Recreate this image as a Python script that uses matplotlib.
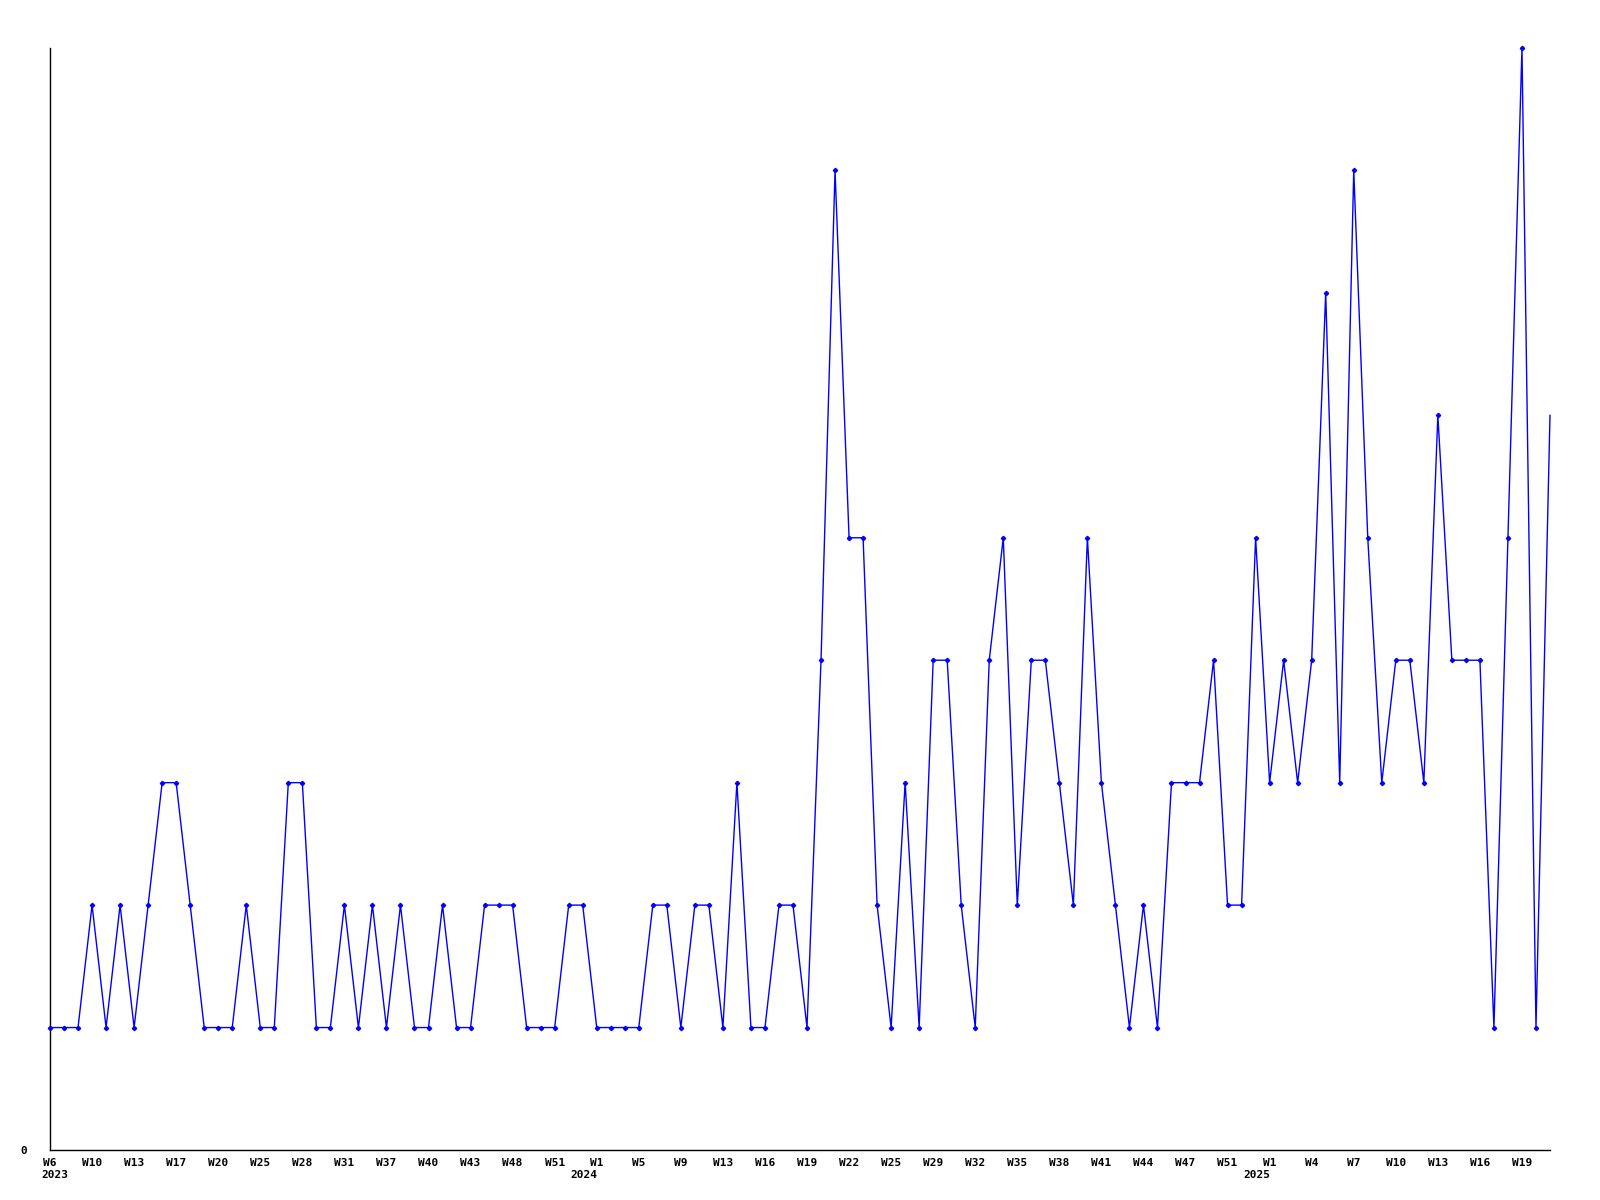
import matplotlib
matplotlib.use("Agg")
import matplotlib.pyplot as plt
import matplotlib.transforms as mtransforms
import numpy as np

# weekly counts, one point per week with data (categorical x axis)
counts = [
    1, 1, 1, 2, 1, 2, 1, 2, 3, 3,
    2, 1, 1, 1, 2, 1, 1, 3, 3, 1,
    1, 2, 1, 2, 1, 2, 1, 1, 2, 1,
    1, 2, 2, 2, 1, 1, 1, 2, 2, 1,
    1, 1, 1, 2, 2, 1, 2, 2, 1, 3,
    1, 1, 2, 2, 1, 4, 8, 5, 5, 2,
    1, 3, 1, 4, 4, 2, 1, 4, 5, 2,
    4, 4, 3, 2, 5, 3, 2, 1, 2, 1,
    3, 3, 3, 4, 2, 2, 5, 3, 4, 3,
    4, 7, 3, 8, 5, 3, 4, 4, 3, 6,
    4, 4, 4, 1, 5, 9, 1, 6,
]

# every third point gets a week label
week_labels = [
    "W6", "W10", "W13", "W17", "W20", "W25", "W28", "W31", "W37", "W40",
    "W43", "W48", "W51", "W1", "W5", "W9", "W13", "W16", "W19", "W22",
    "W25", "W29", "W32", "W35", "W38", "W41", "W44", "W47", "W51", "W1",
    "W4", "W7", "W10", "W13", "W16", "W19",
]
label_step = 3

# year markers: (point index, year text)
year_marks = [(0, "2023"), (39, "2024"), (87, "2025")]

font = dict(family="DejaVu Sans Mono", fontweight="bold", fontsize=8)

fig = plt.figure(figsize=(16, 12), dpi=100)
ax = fig.add_axes([50 / 1600, 1 - 1150 / 1200, 1500 / 1600, (1150 - 48) / 1200])

x = np.arange(len(counts))
y = np.asarray(counts, dtype=float)

ax.plot(x, y, color="#0000ff", linewidth=1.0, zorder=2, clip_on=False)
ax.plot(x[:-1], y[:-1], linestyle="none", marker="D", markersize=2.2,
        color="#0000ff", zorder=3, clip_on=False)

ax.set_xlim(0, len(counts) - 1)
ax.set_ylim(0, 9)

for side in ("top", "right"):
    ax.spines[side].set_visible(False)
for side in ("left", "bottom"):
    ax.spines[side].set_color("black")
    ax.spines[side].set_linewidth(1.0)

ax.set_yticks([0])
ax.set_yticklabels(["0"], **font)
ax.tick_params(axis="y", length=0, pad=16.5)

tick_pos = x[::label_step][: len(week_labels)]
ax.set_xticks(tick_pos)
ax.set_xticklabels(week_labels, **font)
ax.tick_params(axis="x", length=0, pad=6)

trans = ax.get_xaxis_transform()
for idx, year in year_marks:
    if idx == 0:
        off = mtransforms.offset_copy(trans, fig=fig, x=-9, y=-25, units="dots")
        ax.text(idx, 0, year, transform=off, ha="left", va="center", **font)
    else:
        off = mtransforms.offset_copy(trans, fig=fig, x=1, y=-25, units="dots")
        ax.text(idx, 0, year, transform=off, ha="right", va="center", **font)

fig.savefig("out.png", dpi=100, facecolor="white")
